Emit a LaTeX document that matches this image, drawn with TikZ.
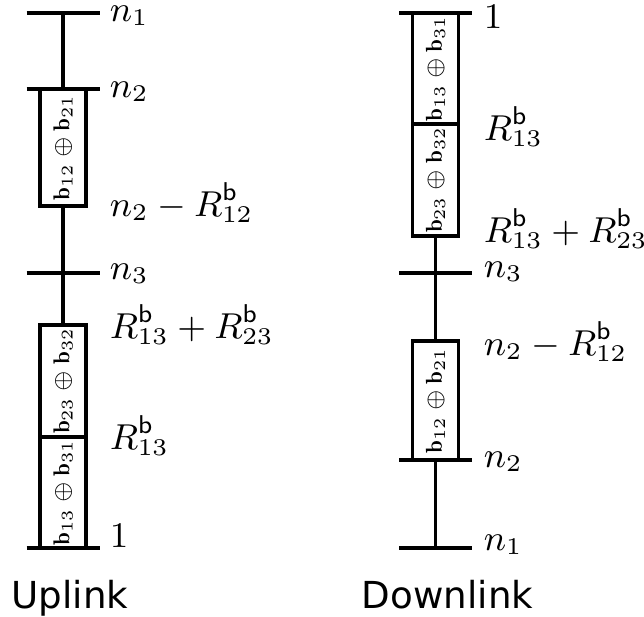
\documentclass[tikz,border=0pt]{standalone}
\usepackage{fontspec}
\newfontfamily\captionfont{DejaVu Sans}
\usetikzlibrary{positioning}

\newcommand{\slottext}[2]{\scalebox{0.82}{$\mathbf{b}_{#1}\oplus\mathbf{b}_{#2}$}}

\tikzset{
	bar/.style={line width=0.9pt},
	slot/.style={draw, line width=0.9pt, fill=white, rotate=90, inner sep=0pt,
		minimum height=11.5pt, font=\scriptsize},
	lbl/.style={anchor=west, inner sep=0pt, font=\fontsize{9.2}{11}\selectfont},
	caption/.style={anchor=base, inner sep=0pt, font=\captionfont\fontsize{9.3}{11}\selectfont}
}

\begin{document}
\begin{tikzpicture}[x=0.25pt, y=-0.25pt]
	\useasboundingbox (0,0) rectangle (644,617);

	% uplink
	\coordinate (un1) at (63,13);
	\coordinate (un2) at (63,89);
	\coordinate (un3) at (63,273);
	\coordinate (uone) at (63,548);

	\draw[bar] (un1) -- (uone);
	\foreach \t in {un1,un2,un3,uone}
		\draw[bar] (\t) ++(-36.5,0) -- ++(73,0);

	\node[slot, minimum width=29.25pt] (u12) at (63,147.5) {\slottext{12}{21}};
	\node[slot, minimum width=28pt] (u23) at (63,381) {\slottext{23}{32}};
	\node[slot, minimum width=27.75pt] (u13) at (63,492.5) {\slottext{13}{31}};

	\node[lbl] (ln1) at (109,16) {$n_1$};
	\node[lbl] (ln2) at (109,92) {$n_2$};
	\node[lbl] (ln2r) at (109,203) {$n_2-R^{\mathsf{b}}_{12}$};
	\node[lbl] (ln3) at (109,274) {$n_3$};
	\node[lbl] (lr1323) at (109,325) {$R^{\mathsf{b}}_{13}+R^{\mathsf{b}}_{23}$};
	\node[lbl] (lr13) at (109,436) {$R^{\mathsf{b}}_{13}$};
	\node[lbl, anchor=base west] (lone) at (109,548) {$1$};

	\node[caption] (up) at (70,609) {Uplink};

	% downlink
	\coordinate (done) at (435.5,13);
	\coordinate (dn3) at (435.5,273);
	\coordinate (dn2) at (435.5,460);
	\coordinate (dn1) at (435.5,548);

	\draw[bar] (done) -- (dn1);
	\foreach \t in {done,dn3,dn2,dn1}
		\draw[bar] (\t) ++(-36.5,0) -- ++(73,0);

	\node[slot, minimum width=27.75pt] (d13) at (435.5,68.5) {\slottext{13}{31}};
	\node[slot, minimum width=28pt] (d23) at (435.5,180) {\slottext{23}{32}};
	\node[slot, minimum width=29.75pt] (d12) at (435.5,400.5) {\slottext{12}{21}};

	\node[lbl] (rone) at (483,17) {$1$};
	\node[lbl] (rr13) at (483,127) {$R^{\mathsf{b}}_{13}$};
	\node[lbl] (rr1323) at (483,229) {$R^{\mathsf{b}}_{13}+R^{\mathsf{b}}_{23}$};
	\node[lbl] (rn3) at (483,272) {$n_3$};
	\node[lbl] (rn2r) at (483,342) {$n_2-R^{\mathsf{b}}_{12}$};
	\node[lbl] (rn2) at (483,462) {$n_2$};
	\node[lbl] (rn1) at (483,545) {$n_1$};

	\node[caption] (down) at (447.5,609) {Downlink};
\end{tikzpicture}
\end{document}
